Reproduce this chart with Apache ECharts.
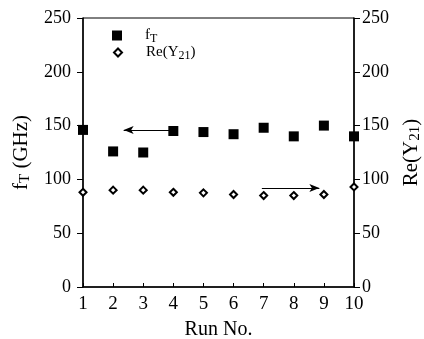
<!DOCTYPE html>
<html><head><meta charset="utf-8">
<script src="https://cdn.jsdelivr.net/npm/echarts@6/dist/echarts.min.js"></script>
<style>html,body{margin:0;padding:0;background:#fff}#c{width:424px;height:339px}</style>
</head><body><div id="c"></div>
<script>
var runs = [1,2,3,4,5,6,7,8,9,10];
var fT = [146,126,125,145,144,142,148,140,150,140];
var reY21 = [88,90,90,88,87.5,86,85,85,86,93];
var yTicks = [0,50,100,150,200,250];
var arrowLeft = [[4.0,146],[2.35,146]];
var arrowRight = [[6.94,92],[8.85,92]];

var FONT = '"Liberation Serif", "DejaVu Serif", serif';
var chart = echarts.init(document.getElementById('c'));
var richName = {
  m:{fontFamily:FONT,fontSize:21,color:'#000'},
  s:{fontFamily:FONT,fontSize:15,color:'#000',verticalAlign:'bottom',padding:[9,0,0,0]}
};
var richLeg = {
  m:{fontFamily:FONT,fontSize:15,color:'#000'},
  s:{fontFamily:FONT,fontSize:12,color:'#000',verticalAlign:'bottom',padding:[6,0,0,0]}
};
function yAxisCfg(pos, name){
  return {
    type:'value', position:pos, min:0, max:250, interval:50,
    name:name, nameLocation:'middle', nameGap: pos==='left'?50:45, nameRotate:90,
    nameTextStyle:{rich:richName},
    axisLine:{show:true,lineStyle:{color:'#000',width:1.5}},
    axisTick:{show:true,length:6,lineStyle:{color:'#000'}},
    axisLabel:{fontFamily:FONT,fontSize:18,color:'#000',margin:pos==='left'?12:8},
    splitLine:{show:false}
  };
}
chart.setOption({
  animation:false,
  grid:{left:83,right:70,top:18,bottom:52,show:true,borderColor:'#000',borderWidth:1,
        containLabel:false, outerBoundsMode:'none'},
  legend:[{
    data:[{name:'fT',icon:'rect'}], orient:'vertical', left:107, top:23,
    itemWidth:10, itemHeight:10, itemGap:4,
    formatter:function(){return '{m|f}{s|T}';},
    textStyle:{rich:richLeg,padding:[0,0,0,18]}, selectedMode:false
  },{
    data:[{name:'Re(Y21)',icon:'emptyDiamond'}], orient:'vertical', left:108, top:40,
    itemWidth:8, itemHeight:8,
    formatter:function(){return '{m|Re(Y}{s|21}{m|)}';},
    textStyle:{rich:richLeg,padding:[0,0,0,19]}, selectedMode:false
  }],
  xAxis:{
    type:'value', min:1, max:10, interval:1,
    name:'Run No.', nameLocation:'middle', nameGap:33,
    nameTextStyle:{fontFamily:FONT,fontSize:20,color:'#000'},
    axisLine:{lineStyle:{color:'#000',width:1.5}},
    axisTick:{inside:true,length:4,lineStyle:{color:'#000'}},
    axisLabel:{fontFamily:FONT,fontSize:19,color:'#000',margin:8},
    splitLine:{show:false}
  },
  yAxis:[
    yAxisCfg('left','{m|f}{s|T}{m| (GHz)}'),
    yAxisCfg('right','{m|Re(Y}{s|21}{m|)}')
  ],
  series:[{
    name:'fT', type:'scatter', yAxisIndex:0,
    data: runs.map(function(r,i){return [r,fT[i]];}),
    symbol:'rect', symbolSize:10, itemStyle:{color:'#000',opacity:1},
    markLine:{silent:true, symbol:['none','arrow'], symbolSize:[6,10],
      lineStyle:{color:'#000',width:1.2,type:'solid'}, label:{show:false},
      data:[[{coord:arrowLeft[0]},{coord:arrowLeft[1]}]]}
  },{
    name:'Re(Y21)', type:'scatter', yAxisIndex:1,
    data: runs.map(function(r,i){return [r,reY21[i]];}),
    symbol:'emptyDiamond', symbolSize:7,
    itemStyle:{color:'#000',borderColor:'#000',borderWidth:1.8,opacity:1},
    markLine:{silent:true, symbol:['none','arrow'], symbolSize:[6,10],
      lineStyle:{color:'#000',width:1.2,type:'solid'}, label:{show:false},
      data:[[{coord:arrowRight[0]},{coord:arrowRight[1]}]]}
  }]
});
</script></body></html>
